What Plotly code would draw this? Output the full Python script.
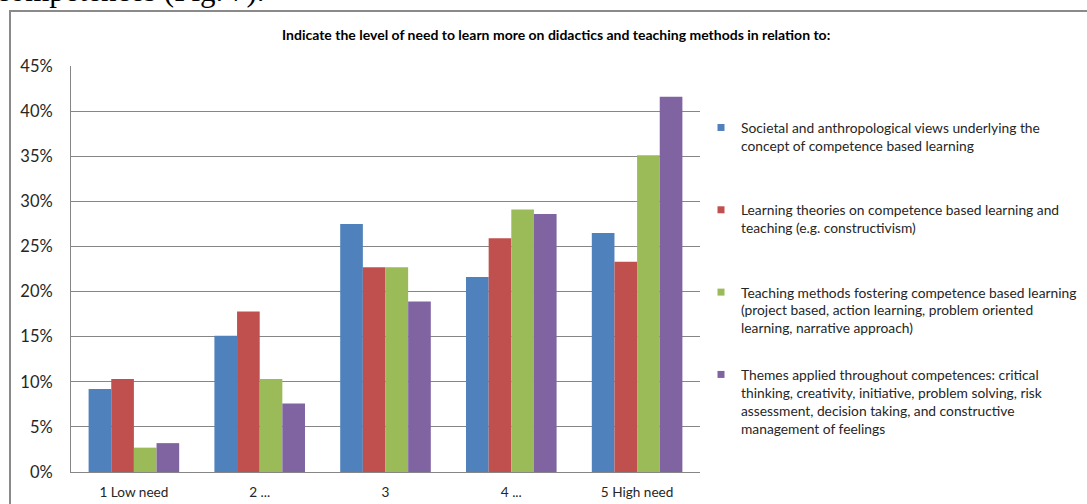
import plotly.graph_objects as go

categories = ["1 Low need", "2 ...", "3", "4 ...", "5 High need"]
series_names = [
    "Societal and anthropological views underlying the<br>concept of competence based learning<br> ",
    "Learning theories on competence based learning and<br>teaching (e.g. constructivism)<br> ",
    "Teaching methods fostering competence based learning<br>(project based, action learning, problem oriented<br>learning, narrative approach)",
    "Themes applied throughout competences: critical<br>thinking, creativity, initiative, problem solving, risk<br>assessment, decision taking, and constructive<br>management of feelings",
]
societal = [9.2, 15.1, 27.5, 21.6, 26.5]
theories = [10.3, 17.8, 22.7, 25.9, 23.3]
methods = [2.7, 10.3, 22.7, 29.1, 35.1]
themes = [3.2, 7.6, 18.9, 28.6, 41.6]
colors = ["#4F81BD", "#C0504D", "#9BBB59", "#8064A2"]
y_ticks = [0, 5, 10, 15, 20, 25, 30, 35, 40, 45]
y_tick_labels = [f"{v}%" for v in y_ticks]
title_text = "Indicate the level of need to learn more on didactics and teaching methods in relation to:"

W, H = 1087, 504
L, R, T, B = 71, 387, 66, 32
pw, ph = W - L - R, H - T - B

def px_x(px):
    return (px - L) / pw

def px_y(py):
    return (H - B - py) / ph

fig = go.Figure()
for i, (name, vals) in enumerate(zip(series_names, [societal, theories, methods, themes])):
    fig.add_trace(go.Bar(
        x=categories, y=vals, name=name,
        marker=dict(color=colors[i], line=dict(width=0)),
        legendgroup=f"g{i}", showlegend=False,
    ))
    fig.add_trace(go.Scatter(
        x=[None], y=[None], mode="markers", name=name,
        marker=dict(symbol="square", size=7, color=colors[i]),
        legendgroup=f"g{i}", showlegend=True,
    ))

fig.update_layout(
    width=W, height=H,
    margin=dict(l=L, r=R, t=T, b=B, autoexpand=False),
    paper_bgcolor="white", plot_bgcolor="white",
    barmode="group", bargap=0.28, bargroupgap=0,
    font=dict(family="Lato, Carlito, Calibri, sans-serif", color="#262626"),
    legend=dict(
        x=px_x(701), y=px_y(112), xanchor="left", yanchor="top",
        font=dict(size=13.8, color="#262626"),
        tracegroupgap=25.5, valign="top", itemwidth=30,
        bgcolor="rgba(0,0,0,0)",
    ),
    xaxis=dict(
        showgrid=False, showline=True, linecolor="#868686", linewidth=1,
        ticks="", tickfont=dict(size=13.6, color="#262626"),
        ticklabelstandoff=8,
    ),
    yaxis=dict(
        range=[0, 45], tickvals=y_ticks, ticktext=y_tick_labels,
        showgrid=True, gridcolor="#868686", gridwidth=1,
        showline=True, linecolor="#868686", linewidth=1,
        ticks="", tickfont=dict(size=16.5, color="#262626"),
        ticklabelstandoff=14, zeroline=False,
    ),
    shapes=[dict(
        type="rect", xref="paper", yref="paper",
        x0=px_x(10), x1=px_x(1110), y0=px_y(530), y1=px_y(11),
        line=dict(color="#8a8a8a", width=2), fillcolor="rgba(0,0,0,0)",
        layer="below",
    )],
    annotations=[
        dict(text="<b>" + title_text + "</b>", xref="paper", yref="paper",
             x=px_x(556), y=px_y(34), xanchor="center", yanchor="middle",
             showarrow=False, font=dict(size=14, color="#000000")),
        dict(text="competences (Fig. 7).", xref="paper", yref="paper",
             x=px_x(-6), y=px_y(10), xanchor="left", yanchor="bottom",
             showarrow=False,
             font=dict(size=31, family="Liberation Serif, Times New Roman, serif",
                       color="#000000")),
    ],
)

fig.write_html(
    "out.html",
    config={"displayModeBar": False},
    post_script="document.body.style.margin='0';document.body.style.overflow='hidden';",
)
